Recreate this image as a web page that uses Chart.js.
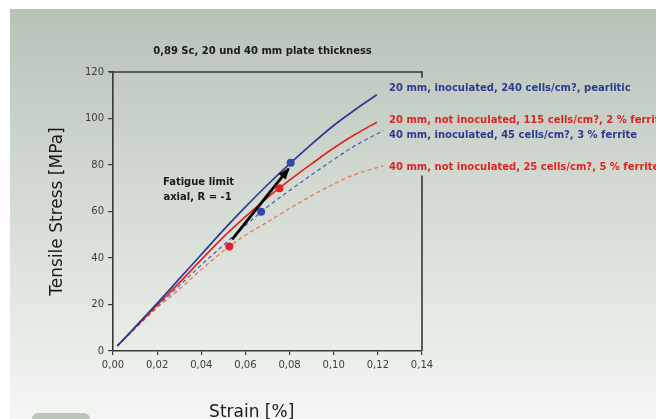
<!DOCTYPE html>
<html><head><meta charset="utf-8">
<script src="https://cdn.jsdelivr.net/npm/chart.js@4.4.0/dist/chart.umd.min.js"></script>
<style>html,body{margin:0;padding:0;background:#fff;overflow:hidden}#wrap{width:656px;height:419px;position:relative}</style>
</head><body><div id="wrap"><canvas id="c" width="656" height="419"></canvas></div>
<script>
// ---- data ----
const chartTitle = '0,89 Sc, 20 und 40 mm plate thickness';
const xTicks = [0, 0.02, 0.04, 0.06, 0.08, 0.10, 0.12, 0.14];
const yTicks = [0, 20, 40, 60, 80, 100, 120];

const seriesLabels = [
  '20 mm, inoculated, 240 cells/cm?, pearlitic',
  '20 mm, not inoculated, 115 cells/cm?, 2 % ferrite',
  '40 mm, inoculated, 45 cells/cm?, 3 % ferrite',
  '40 mm, not inoculated, 25 cells/cm?, 5 % ferrite'
];

const strain20Inoc = [0.002, 0.02, 0.03, 0.04, 0.05, 0.06, 0.07, 0.08, 0.09, 0.10, 0.11, 0.1195];
const stress20Inoc = [2.2, 20.5, 31, 41.5, 52, 62, 71.5, 80.5, 89, 97, 104, 110.2];

const strain20NotInoc = [0.002, 0.02, 0.03, 0.04, 0.05, 0.06, 0.07, 0.08, 0.09, 0.10, 0.11, 0.1195];
const stress20NotInoc = [2.2, 19.8, 29.3, 39.3, 49, 57.8, 66, 73.5, 80.5, 87.3, 93.3, 98.4];

const strain40Inoc = [0.002, 0.02, 0.03, 0.04, 0.05, 0.06, 0.07, 0.08, 0.09, 0.10, 0.11, 0.1225];
const stress40Inoc = [2.2, 19.2, 28, 37, 45.5, 54, 62, 69, 75.8, 82.3, 88.5, 94.8];

const strain40NotInoc = [0.002, 0.02, 0.03, 0.04, 0.05, 0.06, 0.07, 0.08, 0.09, 0.10, 0.11, 0.1225];
const stress40NotInoc = [2.2, 18.6, 26.5, 35, 43, 49.8, 55.5, 61.3, 66.8, 71.8, 76, 79.7];

// fatigue limit points
const blueDotStrain = [0.0805, 0.0671];
const blueDotStress = [81, 59.9];
const redDotStrain = [0.0754, 0.0527];
const redDotStress = [70, 45];

// arrow
const arrowStrain = [0.054, 0.0795];
const arrowStress = [48, 78.3];
const noteLines = ['Fatigue limit', 'axial, R = -1'];

const xTitle = 'Strain [%]';
const yTitle = 'Tensile Stress [MPa]';

// ---- helpers ----
const pts = (xs, ys) => xs.map((x, i) => ({x: x, y: ys[i]}));
const BLUE = '#2e3a94', RED = '#e02424', BLUE2 = '#5166b6', ORANGE = '#ec7650';
const FONT = '"DejaVu Sans", Verdana, sans-serif';

const decor = {
  id: 'decor',
  beforeDraw(chart) {
    const ctx = chart.ctx;
    ctx.save();
    ctx.fillStyle = '#ffffff';
    ctx.fillRect(0, 0, chart.width, chart.height);
    const g = ctx.createLinearGradient(0, 9, 0, chart.height);
    g.addColorStop(0, '#b8c3b8');
    g.addColorStop(0.5, '#d6ddd5');
    g.addColorStop(1, '#f4f6f3');
    ctx.fillStyle = g;
    ctx.fillRect(10, 9, chart.width - 10, chart.height - 9);
    ctx.fillStyle = '#bcc6bb';
    ctx.beginPath();
    ctx.roundRect(32, 413, 58, 14, 6);
    ctx.fill();
    ctx.restore();
  },
  afterDraw(chart) {
    const ctx = chart.ctx;
    const ys = chart.scales.y;
    const a = chart.chartArea;
    ctx.save();
    // frame: top and right
    ctx.strokeStyle = '#383838';
    ctx.lineWidth = 1.6;
    ctx.beginPath();
    ctx.moveTo(a.left - 4, a.top);
    ctx.lineTo(a.right, a.top);
    ctx.lineTo(a.right, ys.getPixelForValue(117.5));
    ctx.moveTo(a.right, ys.getPixelForValue(75.5));
    ctx.lineTo(a.right, a.bottom);
    ctx.stroke();

    // arrow head
    const m = chart.getDatasetMeta(4).data;
    const p0 = m[0], p1 = m[m.length - 1];
    const ang = Math.atan2(p1.y - p0.y, p1.x - p0.x);
    const L = 10, W = 4.5;
    ctx.fillStyle = '#000';
    ctx.beginPath();
    ctx.moveTo(p1.x + Math.cos(ang) * 2, p1.y + Math.sin(ang) * 2);
    ctx.lineTo(p1.x - Math.cos(ang) * L - Math.sin(ang) * W, p1.y - Math.sin(ang) * L + Math.cos(ang) * W);
    ctx.lineTo(p1.x - Math.cos(ang) * L + Math.sin(ang) * W, p1.y - Math.sin(ang) * L - Math.cos(ang) * W);
    ctx.closePath();
    ctx.fill();

    // title
    ctx.fillStyle = '#1a1a1a';
    ctx.font = 'bold 10px ' + FONT;
    ctx.textAlign = 'center';
    ctx.textBaseline = 'middle';
    ctx.fillText(chartTitle, 262.5, 51.5);

    // note
    ctx.fillText(noteLines[0], 198.5, 182);
    ctx.fillText(noteLines[1], 197.5, 197);

    // series labels
    const labelY = [88.3, 120.7, 135, 167.3];
    const labelC = [BLUE, RED, BLUE, RED];
    ctx.textAlign = 'left';
    seriesLabels.forEach((t, i) => {
      ctx.fillStyle = labelC[i];
      ctx.fillText(t, 389, labelY[i]);
    });

    // x axis title
    ctx.fillStyle = '#1a1a1a';
    ctx.font = '17px ' + FONT;
    ctx.textAlign = 'center';
    ctx.textBaseline = 'alphabetic';
    ctx.fillText(xTitle, 251.7, 417);
    ctx.restore();
  }
};

new Chart(document.getElementById('c'), {
  type: 'line',
  data: {
    datasets: [
      {label: seriesLabels[0], data: pts(strain20Inoc, stress20Inoc), borderColor: BLUE, borderWidth: 1.7, pointRadius: 0, cubicInterpolationMode: 'monotone', order: 3},
      {label: seriesLabels[1], data: pts(strain20NotInoc, stress20NotInoc), borderColor: RED, borderWidth: 1.7, pointRadius: 0, cubicInterpolationMode: 'monotone', order: 4},
      {label: seriesLabels[2], data: pts(strain40Inoc, stress40Inoc), borderColor: BLUE2, borderWidth: 1.3, borderDash: [4, 3], pointRadius: 0, cubicInterpolationMode: 'monotone', order: 5},
      {label: seriesLabels[3], data: pts(strain40NotInoc, stress40NotInoc), borderColor: ORANGE, borderWidth: 1.3, borderDash: [4, 3], pointRadius: 0, cubicInterpolationMode: 'monotone', order: 6},
      {label: 'arrow', data: pts(arrowStrain, arrowStress), borderColor: '#000', borderWidth: 2.8, pointRadius: 0, order: 1},
      {label: 'fatigue blue', data: pts(blueDotStrain, blueDotStress), showLine: false, pointRadius: 4, pointBackgroundColor: '#2c4aa6', pointBorderWidth: 0, order: 0},
      {label: 'fatigue red', data: pts(redDotStrain, redDotStress), showLine: false, pointRadius: 4, pointBackgroundColor: '#e2202a', pointBorderWidth: 0, order: 0}
    ]
  },
  options: {
    responsive: false,
    animation: false,
    devicePixelRatio: 1,
    layout: {padding: {left: 0, top: 72, right: 234, bottom: 0}},
    plugins: {legend: {display: false}, tooltip: {enabled: false}, title: {display: false}},
    scales: {
      x: {
        type: 'linear', min: 0, max: 0.14,
        afterBuildTicks: s => { s.ticks = xTicks.map(v => ({value: v})); },
        afterFit: s => { s.height = 68; },
        ticks: {font: {family: FONT, size: 10}, color: '#3d3d3d', padding: 4, maxRotation: 0,
          callback: v => Number(v).toFixed(2).replace('.', ',')},
        grid: {drawOnChartArea: false, drawTicks: true, tickLength: 4, color: '#3a3a3a', lineWidth: 1.2},
        border: {display: true, color: '#383838', width: 1.6},
        title: {display: false}
      },
      y: {
        min: 0, max: 120,
        afterBuildTicks: s => { s.ticks = yTicks.map(v => ({value: v})); },
        afterFit: s => { s.width = 113; },
        ticks: {font: {family: FONT, size: 10}, color: '#3d3d3d', padding: 4},
        grid: {drawOnChartArea: false, drawTicks: true, tickLength: 5, color: '#3a3a3a', lineWidth: 1.2},
        border: {display: true, color: '#383838', width: 1.6},
        title: {display: true, text: yTitle, color: '#1a1a1a', font: {family: FONT, size: 17, lineHeight: 1.2}, padding: {top: 47.8, bottom: 0}}
      }
    }
  },
  plugins: [decor]
});
</script></body></html>
